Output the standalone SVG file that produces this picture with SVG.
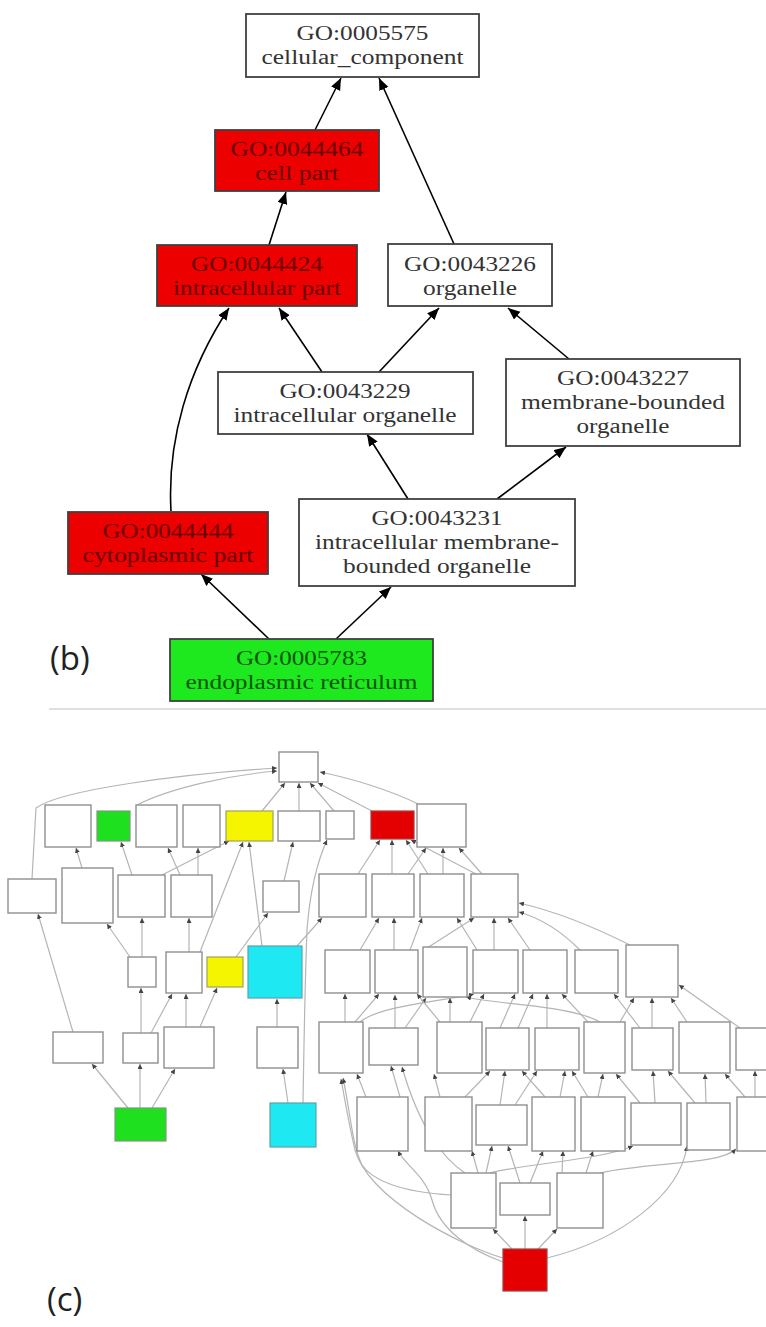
<svg xmlns="http://www.w3.org/2000/svg" width="766" height="1327" viewBox="0 0 766 1327">
<defs>
<style>
.bx{stroke:#404040;stroke-width:1.8}
.w{fill:#fff}
.r{fill:#ec0000}
.g{fill:#1ee81e}
.t{font-family:"Liberation Serif","Times New Roman",serif;font-size:20px;text-anchor:middle}
.tw{fill:#333}
.tr{fill:#6b0000}
.tg{fill:#0b560b}
.e{fill:none;stroke:#000;stroke-width:1.6;marker-end:url(#ab)}
.lbl{font-family:"Open Sans","Liberation Sans",sans-serif;font-size:33px;fill:#222}
.c{fill:#fff;stroke:#8f8f8f;stroke-width:1.4}
.cg{fill:#1ee01e;stroke:#7a9a7a;stroke-width:1.2}
.cy{fill:#f5f500;stroke:#a0a060;stroke-width:1.2}
.cc{fill:#1ee8f2;stroke:#60a0a8;stroke-width:1.2}
.cr{fill:#e40000;stroke:#a04040;stroke-width:1.2}
.ce{fill:none;stroke:#b5b5b5;stroke-width:1.2;marker-end:url(#ac)}
</style>
<marker id="ab" markerUnits="userSpaceOnUse" markerWidth="13" markerHeight="11" refX="12" refY="5" orient="auto"><path d="M0,0 L12,5 L0,10 z" fill="#000"/></marker>
<marker id="ac" markerUnits="userSpaceOnUse" markerWidth="6" markerHeight="6" refX="5" refY="2.5" orient="auto"><path d="M0,0 L5,2.5 L0,5 z" fill="#444"/></marker>
</defs>
<rect width="766" height="1327" fill="#fff"/>

<!-- ===== (b) ===== -->
<g id="b-edges">
<path class="e" d="M315,130 L341,78"/>
<path class="e" d="M454,244 L379,78"/>
<path class="e" d="M269,245 L286,192"/>
<path class="e" d="M171,511 C167,440 188,370 229,308"/>
<path class="e" d="M322,372 L279,308"/>
<path class="e" d="M379,372 L439,308"/>
<path class="e" d="M569,359 L508,308"/>
<path class="e" d="M408,499 L367,434"/>
<path class="e" d="M497,499 L566,447"/>
<path class="e" d="M269,639 L201,574"/>
<path class="e" d="M336,639 L391,587"/>
</g>
<g id="GO0005575"><rect class="bx w" x="246" y="14" width="233" height="63"/>
<text class="t tw" x="362.5" y="40" textLength="132" lengthAdjust="spacingAndGlyphs">GO:0005575</text>
<text class="t tw" x="362.5" y="64" textLength="202" lengthAdjust="spacingAndGlyphs">cellular_component</text></g>
<g id="GO0044464"><rect class="bx r" x="215" y="130" width="164" height="61"/>
<text class="t tr" x="297" y="156" textLength="133" lengthAdjust="spacingAndGlyphs">GO:0044464</text>
<text class="t tr" x="297" y="180" textLength="84" lengthAdjust="spacingAndGlyphs">cell part</text></g>
<g id="GO0044424"><rect class="bx r" x="157" y="245" width="200" height="61"/>
<text class="t tr" x="257" y="271" textLength="132" lengthAdjust="spacingAndGlyphs">GO:0044424</text>
<text class="t tr" x="257" y="295" textLength="168" lengthAdjust="spacingAndGlyphs">intracellular part</text></g>
<g id="GO0043226"><rect class="bx w" x="388" y="244" width="164" height="62"/>
<text class="t tw" x="470" y="271" textLength="132" lengthAdjust="spacingAndGlyphs">GO:0043226</text>
<text class="t tw" x="470" y="295" textLength="94" lengthAdjust="spacingAndGlyphs">organelle</text></g>
<g id="GO0043229"><rect class="bx w" x="218" y="372" width="255" height="62"/>
<text class="t tw" x="345" y="398" textLength="131" lengthAdjust="spacingAndGlyphs">GO:0043229</text>
<text class="t tw" x="345" y="422" textLength="223" lengthAdjust="spacingAndGlyphs">intracellular organelle</text></g>
<g id="GO0043227"><rect class="bx w" x="506" y="359" width="234" height="87"/>
<text class="t tw" x="623" y="385" textLength="132" lengthAdjust="spacingAndGlyphs">GO:0043227</text>
<text class="t tw" x="623" y="409" textLength="204" lengthAdjust="spacingAndGlyphs">membrane-bounded</text>
<text class="t tw" x="623" y="433" textLength="93" lengthAdjust="spacingAndGlyphs">organelle</text></g>
<g id="GO0044444"><rect class="bx r" x="68" y="512" width="200" height="62"/>
<text class="t tr" x="168" y="538" textLength="131" lengthAdjust="spacingAndGlyphs">GO:0044444</text>
<text class="t tr" x="168" y="562" textLength="171" lengthAdjust="spacingAndGlyphs">cytoplasmic part</text></g>
<g id="GO0043231"><rect class="bx w" x="299" y="499" width="276" height="87"/>
<text class="t tw" x="437" y="525" textLength="131" lengthAdjust="spacingAndGlyphs">GO:0043231</text>
<text class="t tw" x="437" y="549" textLength="244" lengthAdjust="spacingAndGlyphs">intracellular membrane-</text>
<text class="t tw" x="437" y="573" textLength="188" lengthAdjust="spacingAndGlyphs">bounded organelle</text></g>
<g id="GO0005783"><rect class="bx g" x="170" y="639" width="263" height="62"/>
<text class="t tg" x="301.5" y="665" textLength="131" lengthAdjust="spacingAndGlyphs">GO:0005783</text>
<text class="t tg" x="301.5" y="689" textLength="232" lengthAdjust="spacingAndGlyphs">endoplasmic reticulum</text></g>
<text class="lbl" x="50" y="670">(b)</text>
<line x1="49" y1="709" x2="766" y2="709" stroke="#d6d6d6" stroke-width="1.5"/>

<!-- ===== (c) ===== -->
<g id="c-edges">
<path class="ce" d="M32,879 L36,808 C60,790 180,774 277,768"/>
<path class="ce" d="M137,805 C170,788 230,775 277,771"/>
<path class="ce" d="M262,811 L285,783"/>
<path class="ce" d="M299,811 L299,783"/>
<path class="ce" d="M334,811 L310,783"/>
<path class="ce" d="M372,811 L318,783"/>
<path class="ce" d="M418,804 C390,790 350,778 320,772"/>
<path class="ce" d="M82,868 L76,848"/>
<path class="ce" d="M132,875 L121,842"/>
<path class="ce" d="M162,875 L229,841"/>
<path class="ce" d="M180,875 L168,848"/>
<path class="ce" d="M198,875 L198,848"/>
<path class="ce" d="M284,881 L293,842"/>
<path class="ce" d="M358,874 L380,840"/>
<path class="ce" d="M392,874 L392,840"/>
<path class="ce" d="M428,874 L406,840"/>
<path class="ce" d="M476,874 L411,840"/>
<path class="ce" d="M408,874 L426,848"/>
<path class="ce" d="M443,874 L443,848"/>
<path class="ce" d="M482,874 L459,848"/>
<path class="ce" d="M130,957 L107,924"/>
<path class="ce" d="M142,957 L142,918"/>
<path class="ce" d="M189,952 L189,918"/>
<path class="ce" d="M200,952 L243,842"/>
<path class="ce" d="M236,957 L268,913"/>
<path class="ce" d="M262,946 L249,842"/>
<path class="ce" d="M297,946 L322,918"/>
<path class="ce" d="M303,1103 C304,1040 305,980 307,930 C310,890 318,860 327,840"/>
<path class="ce" d="M360,950 L379,918"/>
<path class="ce" d="M394,950 L394,918"/>
<path class="ce" d="M410,950 L422,918"/>
<path class="ce" d="M427,948 L474,918"/>
<path class="ce" d="M477,950 L457,918"/>
<path class="ce" d="M494,950 L494,918"/>
<path class="ce" d="M530,950 L508,918"/>
<path class="ce" d="M580,950 C560,930 540,918 519,912"/>
<path class="ce" d="M630,945 C590,925 550,910 519,903"/>
<path class="ce" d="M73,1032 L38,914"/>
<path class="ce" d="M141,1033 L141,988"/>
<path class="ce" d="M151,1033 L172,994"/>
<path class="ce" d="M186,1027 L186,994"/>
<path class="ce" d="M200,1027 L217,988"/>
<path class="ce" d="M277,1027 L277,999"/>
<path class="ce" d="M128,1108 L92,1064"/>
<path class="ce" d="M140,1108 L140,1064"/>
<path class="ce" d="M152,1108 L175,1069"/>
<path class="ce" d="M288,1103 L283,1069"/>
<path class="ce" d="M345,1022 L345,994"/>
<path class="ce" d="M355,1022 L379,994"/>
<path class="ce" d="M360,1022 C380,1005 450,1000 474,994"/>
<path class="ce" d="M395,1028 L395,995"/>
<path class="ce" d="M405,1028 L426,998"/>
<path class="ce" d="M440,1022 L417,994"/>
<path class="ce" d="M450,1022 L450,998"/>
<path class="ce" d="M470,1022 L484,994"/>
<path class="ce" d="M500,1028 L515,994"/>
<path class="ce" d="M518,1028 L533,994"/>
<path class="ce" d="M547,1028 L547,994"/>
<path class="ce" d="M588,1022 L562,994"/>
<path class="ce" d="M600,1022 C570,1005 500,1005 466,997"/>
<path class="ce" d="M640,1028 L614,994"/>
<path class="ce" d="M620,1022 L634,998"/>
<path class="ce" d="M652,1028 L652,998"/>
<path class="ce" d="M687,1022 L671,998"/>
<path class="ce" d="M740,1028 L679,985"/>
<path class="ce" d="M451,1195 C400,1192 372,1180 362,1165 C352,1145 350,1110 343,1078"/>
<path class="ce" d="M503,1258 C460,1245 370,1200 355,1150 C348,1120 345,1100 341,1079"/>
<path class="ce" d="M366,1097 L357,1074"/>
<path class="ce" d="M400,1097 L391,1066"/>
<path class="ce" d="M465,1173 C445,1160 420,1130 402,1067"/>
<path class="ce" d="M440,1097 L434,1074"/>
<path class="ce" d="M465,1097 L490,1071"/>
<path class="ce" d="M500,1105 L505,1071"/>
<path class="ce" d="M515,1105 L537,1071"/>
<path class="ce" d="M545,1097 L522,1071"/>
<path class="ce" d="M560,1097 L565,1071"/>
<path class="ce" d="M598,1097 L603,1074"/>
<path class="ce" d="M588,1097 L572,1071"/>
<path class="ce" d="M640,1103 L616,1074"/>
<path class="ce" d="M655,1103 L653,1071"/>
<path class="ce" d="M695,1103 L668,1071"/>
<path class="ce" d="M706,1103 L705,1074"/>
<path class="ce" d="M745,1097 L725,1074"/>
<path class="ce" d="M755,1097 L755,1071"/>
<path class="ce" d="M478,1173 L472,1151"/>
<path class="ce" d="M486,1173 L492,1146"/>
<path class="ce" d="M490,1173 C530,1163 600,1160 633,1146"/>
<path class="ce" d="M520,1183 L508,1146"/>
<path class="ce" d="M530,1183 L543,1151"/>
<path class="ce" d="M562,1173 L563,1151"/>
<path class="ce" d="M586,1173 L593,1151"/>
<path class="ce" d="M600,1173 C650,1162 720,1165 736,1149"/>
<path class="ce" d="M503,1262 C470,1250 440,1230 432,1200 C425,1175 405,1165 398,1151"/>
<path class="ce" d="M512,1249 L493,1229"/>
<path class="ce" d="M525,1249 L525,1216"/>
<path class="ce" d="M538,1249 L557,1229"/>
<path class="ce" d="M547,1258 C620,1240 680,1195 687,1146"/>
</g>
<g id="c-root"><rect class="c" x="279" y="752" width="39" height="30"/></g>
<g id="c-A1"><rect class="c" x="45" y="805" width="46" height="42"/></g>
<g id="c-A2"><rect class="cg" x="97" y="811" width="33" height="30"/></g>
<g id="c-A3"><rect class="c" x="136" y="805" width="41" height="42"/></g>
<g id="c-A4"><rect class="c" x="183" y="805" width="37" height="42"/></g>
<g id="c-A5"><rect class="cy" x="226" y="811" width="47" height="30"/></g>
<g id="c-A6"><rect class="c" x="278" y="811" width="42" height="30"/></g>
<g id="c-A7"><rect class="c" x="326" y="811" width="28" height="28"/></g>
<g id="c-A8"><rect class="cr" x="371" y="811" width="43" height="28"/></g>
<g id="c-A9"><rect class="c" x="417" y="804" width="49" height="43"/></g>
<g id="c-B1"><rect class="c" x="8" y="879" width="48" height="34"/></g>
<g id="c-B2"><rect class="c" x="62" y="868" width="51" height="55"/></g>
<g id="c-B3"><rect class="c" x="118" y="875" width="47" height="42"/></g>
<g id="c-B4"><rect class="c" x="171" y="875" width="41" height="42"/></g>
<g id="c-B5"><rect class="c" x="263" y="881" width="36" height="31"/></g>
<g id="c-B6"><rect class="c" x="319" y="874" width="47" height="43"/></g>
<g id="c-B7"><rect class="c" x="372" y="874" width="42" height="43"/></g>
<g id="c-B8"><rect class="c" x="420" y="874" width="44" height="43"/></g>
<g id="c-B9"><rect class="c" x="471" y="874" width="47" height="43"/></g>
<g id="c-C1"><rect class="c" x="128" y="957" width="28" height="30"/></g>
<g id="c-C2"><rect class="c" x="166" y="952" width="36" height="41"/></g>
<g id="c-C3"><rect class="cy" x="207" y="957" width="36" height="30"/></g>
<g id="c-C4"><rect class="cc" x="248" y="946" width="54" height="52"/></g>
<g id="c-D1"><rect class="c" x="325" y="950" width="45" height="43"/></g>
<g id="c-D2"><rect class="c" x="375" y="950" width="43" height="43"/></g>
<g id="c-D3"><rect class="c" x="423" y="947" width="44" height="50"/></g>
<g id="c-D4"><rect class="c" x="473" y="950" width="45" height="43"/></g>
<g id="c-D5"><rect class="c" x="523" y="950" width="44" height="43"/></g>
<g id="c-D6"><rect class="c" x="575" y="950" width="43" height="43"/></g>
<g id="c-D7"><rect class="c" x="626" y="945" width="52" height="52"/></g>
<g id="c-E1"><rect class="c" x="53" y="1032" width="50" height="31"/></g>
<g id="c-E2"><rect class="c" x="123" y="1033" width="35" height="30"/></g>
<g id="c-E3"><rect class="c" x="164" y="1027" width="50" height="41"/></g>
<g id="c-E4"><rect class="c" x="257" y="1027" width="41" height="41"/></g>
<g id="c-F1"><rect class="c" x="319" y="1022" width="44" height="51"/></g>
<g id="c-F2"><rect class="c" x="369" y="1028" width="49" height="37"/></g>
<g id="c-F3"><rect class="c" x="437" y="1022" width="45" height="51"/></g>
<g id="c-F4"><rect class="c" x="486" y="1028" width="43" height="42"/></g>
<g id="c-F5"><rect class="c" x="535" y="1028" width="44" height="42"/></g>
<g id="c-F6"><rect class="c" x="584" y="1022" width="41" height="51"/></g>
<g id="c-F7"><rect class="c" x="632" y="1028" width="41" height="42"/></g>
<g id="c-F8"><rect class="c" x="679" y="1022" width="51" height="51"/></g>
<g id="c-F9"><rect class="c" x="736" y="1028" width="40" height="42"/></g>
<g id="c-G1"><rect class="cg" x="115" y="1108" width="51" height="33"/></g>
<g id="c-G2"><rect class="cc" x="270" y="1103" width="46" height="44"/></g>
<g id="c-H1"><rect class="c" x="357" y="1097" width="51" height="54"/></g>
<g id="c-H2"><rect class="c" x="425" y="1097" width="47" height="54"/></g>
<g id="c-H3"><rect class="c" x="476" y="1105" width="51" height="40"/></g>
<g id="c-H4"><rect class="c" x="532" y="1097" width="43" height="54"/></g>
<g id="c-H5"><rect class="c" x="581" y="1097" width="44" height="54"/></g>
<g id="c-H6"><rect class="c" x="631" y="1103" width="50" height="42"/></g>
<g id="c-H7"><rect class="c" x="687" y="1103" width="43" height="47"/></g>
<g id="c-H8"><rect class="c" x="737" y="1097" width="40" height="54"/></g>
<g id="c-I1"><rect class="c" x="451" y="1173" width="45" height="55"/></g>
<g id="c-I2"><rect class="c" x="500" y="1183" width="50" height="32"/></g>
<g id="c-I3"><rect class="c" x="557" y="1173" width="46" height="55"/></g>
<g id="c-J"><rect class="cr" x="503" y="1249" width="44" height="42"/></g>
<text class="lbl" x="47" y="1311">(c)</text>
</svg>
